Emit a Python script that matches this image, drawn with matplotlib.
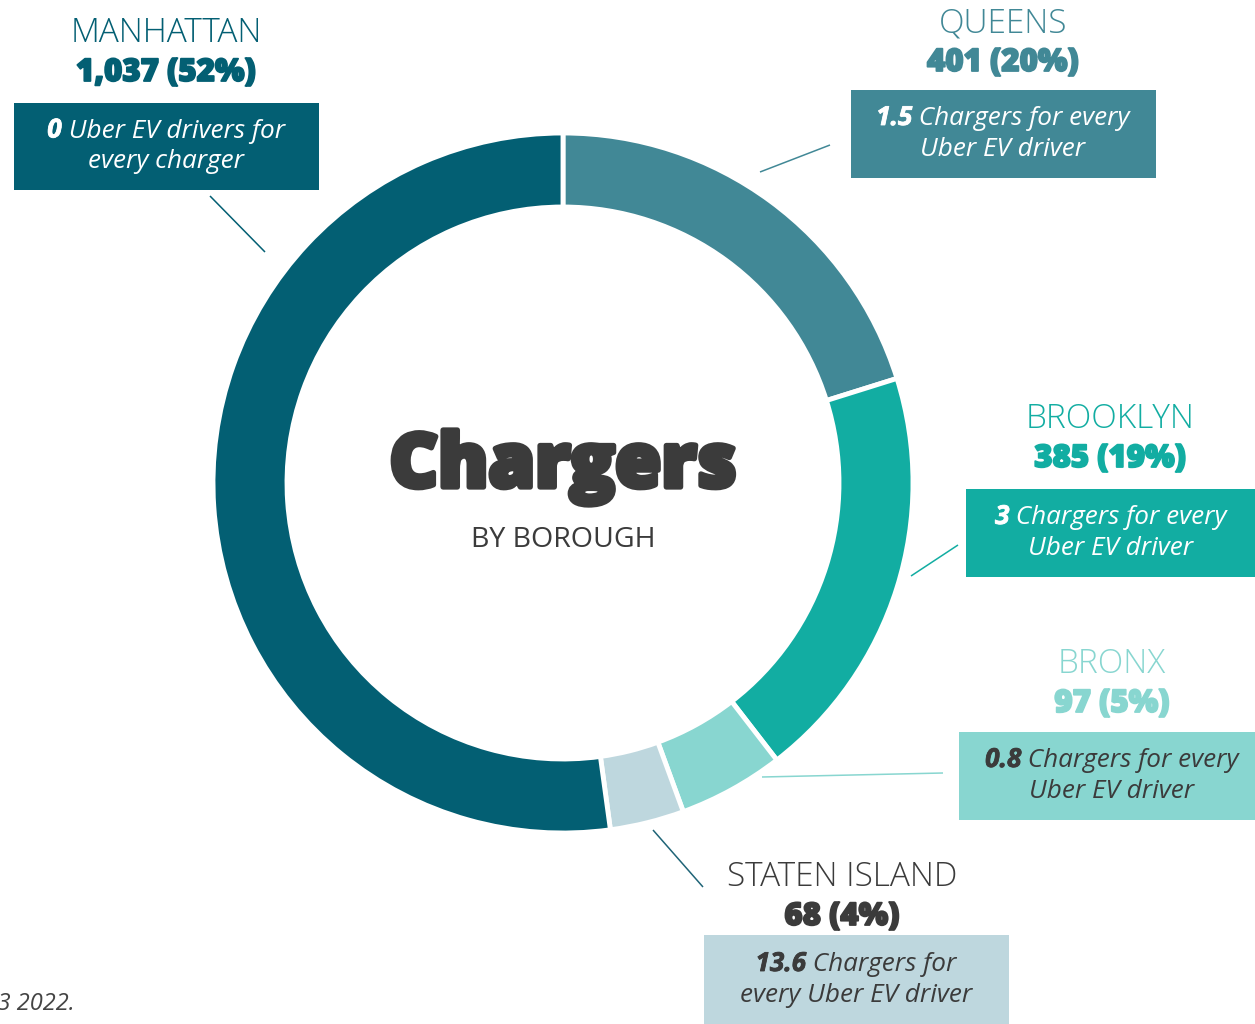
import matplotlib
matplotlib.use("Agg")
import matplotlib.pyplot as plt
from matplotlib.patches import Rectangle
import matplotlib.patheffects as pe

plt.rcParams['font.family'] = ['Open Sans', 'DejaVu Sans']

# ---- data ----
boroughs = ['QUEENS', 'BROOKLYN', 'BRONX', 'STATEN ISLAND', 'MANHATTAN']
chargers = [401, 385, 97, 68, 1037]
percents = [20, 19, 5, 4, 52]
ratio_values = ['1.5', '3', '0.8', '13.6', '0']
ratio_rest = [' Chargers for every', ' Chargers for every', ' Chargers for every',
              ' Chargers for', ' Uber EV drivers for']
ratio_line2 = ['Uber EV driver', 'Uber EV driver', 'Uber EV driver',
               'every Uber EV driver', 'every charger']

# ---- styles ----
colors = ['#418896', '#12ada2', '#88d6d0', '#bed7de', '#035f73']
name_colors = ['#418896', '#12ada2', '#88d6d0', '#3b3b3b', '#035f73']
box_text_colors = ['white', 'white', '#3b3b3b', '#3b3b3b', 'white']
line_colors = ['#418896', '#12ada2', '#88d6d0', '#1f6477', '#035f73']
DARK = '#3b3b3b'

W, H = 1255, 1024
fig = plt.figure(figsize=(W / 100, H / 100), dpi=100)
ax = fig.add_axes([0, 0, 1, 1])


def Y(y):
    return H - y


cx, cy = 563, 483
ax.pie(chargers, colors=colors, startangle=90, counterclock=False,
       center=(cx, Y(cy)), radius=350,
       wedgeprops=dict(width=74, edgecolor='white', linewidth=3.5))
ax.set_xlim(0, W)
ax.set_ylim(0, H)
ax.set_aspect('equal')
ax.axis('off')

# label layout (pixel coords from top)
label_x = [1003, 1110, 1112, 842, 166]
name_base = [32, 428, 673, 886, 42]
box_rect = [(851, 90, 305, 88), (966, 489, 310, 88), (959, 732, 310, 88),
            (704, 935, 305, 90), (14, 103, 305, 87)]
box_text_x = [1003, 1111, 1112, 856, 166]
leaders = [((760, 172), (830, 145)), ((911, 576), (958, 545)),
           ((762, 777), (943, 773)), ((653, 830), (703, 887)),
           ((210, 196), (265, 252))]

fig.canvas.draw()
renderer = fig.canvas.get_renderer()

BOX_FS = 18.8


def heavy(color, lw):
    return [pe.withStroke(linewidth=lw, foreground=color)]


for i in range(len(boroughs)):
    # leader line
    (x1, y1), (x2, y2) = leaders[i]
    ax.plot([x1, x2], [Y(y1), Y(y2)], color=line_colors[i], lw=1.1,
            solid_capstyle='butt')
    # name + number
    ax.text(label_x[i], Y(name_base[i]), boroughs[i], ha='center', va='baseline',
            fontsize=24, fontweight=300, color=name_colors[i])
    ax.text(label_x[i], Y(name_base[i] + 39), f"{chargers[i]:,} ({percents[i]}%)",
            ha='center', va='baseline', fontsize=22.5, fontweight=800,
            color=name_colors[i], path_effects=heavy(name_colors[i], 1.3))
    # box
    bx, by, bw, bh = box_rect[i]
    ax.add_patch(Rectangle((bx, Y(by + bh)), bw, bh, facecolor=colors[i],
                           edgecolor='none', clip_on=False))
    c = by + bh / 2
    b1, b2 = c - 9, c + 22
    t1 = ax.text(0, Y(b1), ratio_values[i], ha='left', va='baseline',
                 fontsize=BOX_FS, fontweight='bold', style='italic',
                 color=box_text_colors[i],
                 path_effects=heavy(box_text_colors[i], 0.6))
    t2 = ax.text(0, Y(b1), ratio_rest[i], ha='left', va='baseline',
                 fontsize=BOX_FS, style='italic', color=box_text_colors[i])
    w1 = t1.get_window_extent(renderer).width
    w2 = t2.get_window_extent(renderer).width
    x0 = box_text_x[i] - (w1 + w2) / 2
    t1.set_x(x0)
    t2.set_x(x0 + w1)
    ax.text(box_text_x[i], Y(b2), ratio_line2[i], ha='center', va='baseline',
            fontsize=BOX_FS, style='italic', color=box_text_colors[i])

# center title
ax.text(cx, Y(487), 'Chargers', ha='center', va='baseline', fontsize=54,
        fontweight=800, color=DARK, path_effects=heavy(DARK, 3.8))
ax.text(cx, Y(547), 'BY BOROUGH', ha='center', va='baseline', fontsize=20.5,
        fontweight='normal', color=DARK)

# clipped source note at bottom left (cut off in the reference too)
ax.text(75, Y(1010), 'Source: Uber data as of December 13 2022.', ha='right',
        va='baseline', fontsize=17, style='italic', color='#444444')

fig.savefig('out.png', dpi=100)
